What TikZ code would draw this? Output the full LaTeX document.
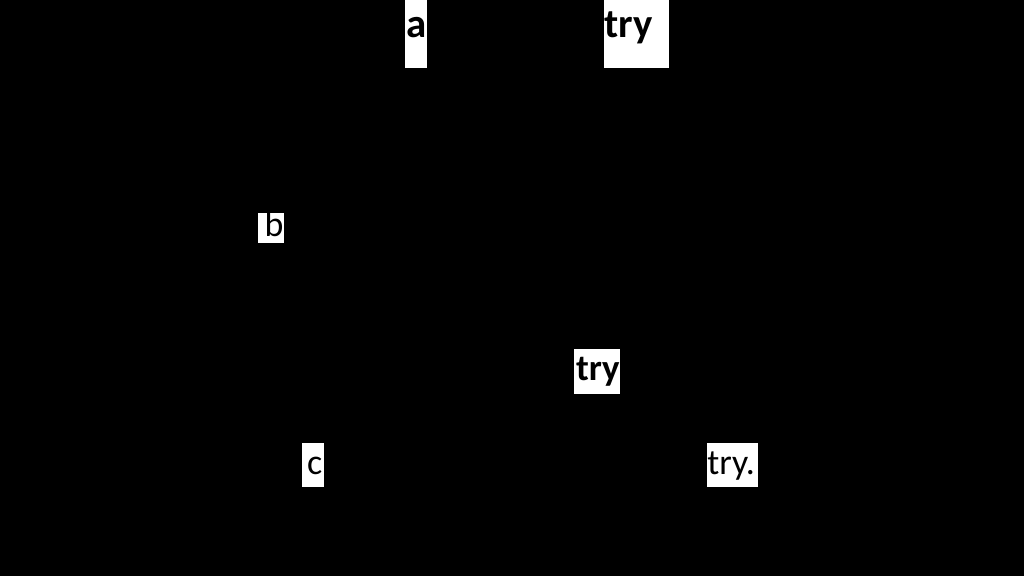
\documentclass[tikz,border=0pt]{standalone}
\usepackage{fontspec}
\setmainfont{Carlito}
\tikzset{
  hl/.style={fill=white, text=black, inner sep=0pt, anchor=base west, shape=rectangle},
}
\newcommand{\hlbox}[4]{\makebox[#1bp][l]{\hspace{#2bp}#3}}
\begin{document}
\begin{tikzpicture}[x=1bp, y=-1bp]
\fill[black] (0,0) rectangle (1024,576);
\useasboundingbox (0,0) rectangle (1024,576);
% top level (bold, larger)
\node[hl, text height=50bp, text depth=30.2bp, font=\fontsize{41}{48}\bfseries] (a) at (405,37.5) {\hlbox{21.7}{1}{a}{}};
\node[hl, text height=50bp, text depth=30.2bp, font=\fontsize{41}{48}\bfseries] (try1) at (604,37.5) {\hlbox{65}{0.3}{try}{}};
% b
\node[hl, text height=24bp, text depth=6bp, font=\fontsize{36}{43}\selectfont] (b) at (258,237) {\hlbox{26}{6.5}{b}{}};
% mid try
\node[hl, text height=31.3bp, text depth=13.7bp, font=\fontsize{37}{44}\bfseries] (try2) at (574,380.7) {\hlbox{46}{2}{try}{}};
% bottom row
\node[hl, text height=31.7bp, text depth=12.5bp, font=\fontsize{36}{43}\selectfont] (c) at (302,474.7) {\hlbox{22}{5}{c}{}};
\node[hl, text height=31.7bp, text depth=12.5bp, font=\fontsize{36}{43}\selectfont] (try3) at (706.7,474.7) {\hlbox{51.5}{0.5}{try.}{}};
\end{tikzpicture}
\end{document}
